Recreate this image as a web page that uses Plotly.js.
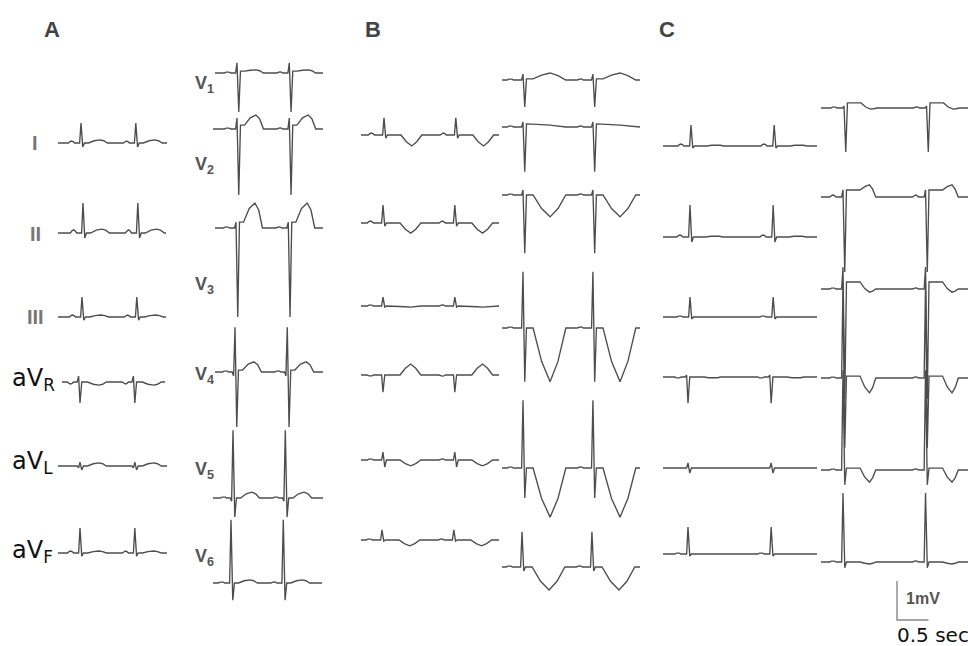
<!DOCTYPE html>
<html><head><meta charset="utf-8">
<script src="https://cdn.plot.ly/plotly-3.0.1.min.js"></script>
<style>html,body{margin:0;padding:0;background:#fff}#g{width:968px;height:646px}</style>
</head><body><div id="g"></div>
<script>
// ---------- DATA (amplitudes in mV, times in s) ----------
const LEADS = ['I','II','III','aVR','aVL','aVF','V1','V2','V3','V4','V5','V6'];

// Panel A
const A_P  = [0.05, 0.08, 0.05,-0.05, 0.00, 0.05,  0.03, 0.03, 0.03, 0.03, 0.03, 0.03];
const A_Q  = [0.00, 0.00, 0.00, 0.15,-0.05, 0.00,  0.00, 0.00, 0.00,-0.10,-0.08, 0.00];
const A_R  = [0.51, 0.77, 0.51,-0.54, 0.10, 0.64,  0.26, 0.28, 0.15, 1.15, 1.74, 1.62];
const A_S  = [-0.10,-0.13,-0.08, 0.00,-0.10,-0.08, -1.00,-1.69,-2.28,-1.41,-0.49,-0.44];
const A_ST = [0.00, 0.00, 0.00, 0.00, 0.00, 0.00,  0.05, 0.10, 0.15, 0.05, 0.00, 0.00];
const A_T  = [0.08, 0.10, 0.05,-0.08, 0.08, 0.05,  0.08, 0.36, 0.64, 0.26, 0.15, 0.08];

// Panel B
const B_P  = [0.05, 0.05, 0.03,-0.03, 0.03, 0.03,  0.03, 0.03, 0.03, 0.03, 0.03, 0.03];
const B_Q  = [0.00, 0.00, 0.00, 0.00, 0.00, 0.00,  0.00, 0.00, 0.00, 0.00, 0.00, 0.00];
const B_R  = [0.44, 0.46, 0.23,-0.44, 0.20, 0.26,  0.15, 0.13, 0.13, 1.44, 1.74, 0.90];
const B_S  = [-0.08,-0.08,-0.03, 0.00,-0.18,-0.03, -0.69,-1.15,-1.49,-1.38,-0.77,-0.10];
const B_ST = [0.00, 0.00, 0.00, 0.00, 0.00, 0.00,  0.03, 0.08, 0.00, 0.00, 0.00, 0.00];
const B_T  = [-0.28,-0.26,-0.03, 0.28,-0.15,-0.15,  0.18, 0.05,-0.56,-1.38,-1.26,-0.59];

// Panel C
const C_P  = [0.05, 0.05, 0.03,-0.03, 0.00, 0.03,  0.03, 0.05, 0.03, 0.03, 0.03, 0.03];
const C_Q  = [0.00, 0.00, 0.00, 0.05, 0.00, 0.00,  0.00, 0.00, 0.00, 0.00, 0.00, 0.00];
const C_R  = [0.54, 0.82, 0.51,-0.67, 0.13, 0.69,  0.05, 0.18, 0.56, 2.44, 2.56, 1.77];
const C_S  = [-0.05,-0.13,-0.05, 0.00,-0.13,-0.05, -1.13,-1.92,-2.82,-1.79,-0.38,-0.15];
const C_ST = [0.00, 0.00, 0.00, 0.00, 0.00, 0.00,  0.13, 0.18, 0.18, 0.05, 0.05, 0.00];
const C_T  = [0.03, 0.03, 0.00,-0.03, 0.00, 0.00, -0.03, 0.31,-0.08,-0.38,-0.31,-0.05];

// Wave timing relative to R peak (s), per panel A,B,C as [limb, chest]
const P_TIME = [-0.15,-0.20,-0.16];
const T_ON   = [[0.12,0.12],[0.27,0.16],[0.25,0.27]];
const T_PEAK = [[0.30,0.30],[0.44,0.43],[0.41,0.42]];
const T_OFF  = [[0.42,0.42],[0.60,0.68],[0.52,0.52]];
const RR_LIMB  = [0.87, 1.14, 1.32];
const RR_CHEST = [0.83, 1.11, 1.31];

// Calibration bar
const CAL_MV = 1, CAL_S = 0.5;

// ---------- LAYOUT (pixel positions) ----------
const PXS = 63, PXMV = 39, W = 968, H = 646;
const BASE = [
  [143,233,317,382,466,553,  73,129,228,372,498,583],
  [135,223,306,375,460,540,  80,127,195,328,468,567],
  [146,237,317,377,468,554, 108,197,289,378,470,562]];
const QRS1 = [
  [81,83,82,80,80,80, 237,237,236,235,233,231],
  [384,383,383,383,383,382, 523,523,523,523,523,522],
  [691,690,690,688,688,688, 844,843,843,843,843,843]];
const XSTART = [[58,58,58,62,58,58, 215,213,215,215,213,213],
                [361,361,361,361,361,361, 502,502,502,502,502,502],
                [663,663,663,663,663,663, 821,821,821,821,821,821]];
const XEND   = [[167,166,166,165,167,167, 323,323,323,323,323,322],
                [499,499,499,499,499,499, 640,640,640,640,640,640],
                [817,817,817,817,817,817, 975,975,975,975,975,975]];
const TSHAPE = [0.72, 0.62, 0.65];

const PANELS = [[A_P,A_Q,A_R,A_S,A_ST,A_T],[B_P,B_Q,B_R,B_S,B_ST,B_T],[C_P,C_Q,C_R,C_S,C_ST,C_T]];

function beat(pi, li){
  const [P,Q,R,S,ST,T] = PANELS[pi].map(a=>a[li]);
  const g = li<6 ? 0 : 1;
  const pt = P_TIME[pi], on=T_ON[pi][g], pk=T_PEAK[pi][g], off=T_OFF[pi][g], k=TSHAPE[pi];
  return [
    [pt-0.05,0],[pt-0.025,P*0.7],[pt,P],[pt+0.025,P*0.7],[pt+0.05,0],
    [-0.045,0],[-0.022,Q],[0,R],[0.028,S],[0.055,ST],
    [on,ST],[(on+pk)/2, ST+(T-ST)*k],[pk,T],[(pk+off)/2,T*k],[off,0]
  ];
}

const traces = [];
for (let pi=0; pi<3; pi++){
  for (let li=0; li<12; li++){
    const rr = li<6 ? RR_LIMB[pi] : RR_CHEST[pi];
    const t1 = QRS1[pi][li]/PXS, ts = XSTART[pi][li]/PXS, te = XEND[pi][li]/PXS;
    const yb = -BASE[pi][li]/PXMV;
    const pts = [[ts,0]];
    for (let b=-1; b<=2; b++){
      beat(pi,li).forEach(([t,v])=>{
        const tt = t1 + b*rr + t;
        if (tt>ts && tt<te) pts.push([tt,v]);
      });
    }
    pts.push([te,0]);
    pts.sort((a,b)=>a[0]-b[0]);
    traces.push({x:pts.map(p=>p[0]), y:pts.map(p=>yb+p[1]), mode:'lines', type:'scatter',
      line:{color:'#4d4d4d', width:1.35}, hoverinfo:'skip'});
  }
}
// calibration bar
const cx = 897/PXS, cy = -620/PXMV;
traces.push({x:[cx,cx,cx+CAL_S], y:[cy+CAL_MV,cy,cy], mode:'lines', type:'scatter',
  line:{color:'#888', width:1.4}, hoverinfo:'skip'});

const ann = [];
function txt(text, px, py, size, color, fam, anchor){
  ann.push({text, x:px/W, y:1-py/H, xref:'paper', yref:'paper', showarrow:false,
    xanchor:anchor||'center', yanchor:'middle', font:{size, color, family:fam}});
}
const SANS = 'Liberation Sans, Arial, sans-serif';
txt('<b>A</b>',52,30,22,'#444',SANS);
txt('<b>B</b>',373,30,22,'#444',SANS);
txt('<b>C</b>',667,30,22,'#444',SANS);
txt('<b>I</b>',35,143,20,'#777',SANS);
txt('<b>II</b>',35,234,20,'#777',SANS);
txt('<b>III</b>',35,317,20,'#777',SANS);
txt('aV<sub>R</sub>',10,379,24,'#111','DejaVu Sans','left');
txt('aV<sub>L</sub>',10,463,24,'#111','DejaVu Sans','left');
txt('aV<sub>F</sub>',10,551,24,'#111','DejaVu Sans','left');
const VY = [85,165,285,375,470,557];
VY.forEach((y,i)=>txt('<b>V<sub>'+(i+1)+'</sub></b>',193,y,18,'#555',SANS,'left'));
txt('<b>1mV</b>',904,598,16,'#555',SANS,'left');
txt('0.5 sec',895,635,20,'#111','DejaVu Sans','left');

Plotly.newPlot('g', traces, {
  width:W, height:H, margin:{l:0,r:0,t:0,b:0}, showlegend:false,
  paper_bgcolor:'#fff', plot_bgcolor:'#fff',
  xaxis:{range:[0,W/PXS], visible:false, fixedrange:true},
  yaxis:{range:[-H/PXMV,0], visible:false, fixedrange:true},
  annotations:ann
}, {staticPlot:true, displayModeBar:false});
</script></body></html>
